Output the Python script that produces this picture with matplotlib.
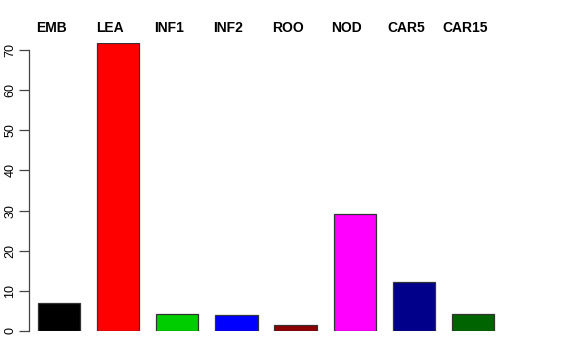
import matplotlib
matplotlib.use('Agg')
import matplotlib.pyplot as plt
import matplotlib.transforms as mtransforms
import numpy as np

plt.rcParams['font.family'] = ['Liberation Sans', 'DejaVu Sans']

tissues = ['EMB', 'LEA', 'INF1', 'INF2', 'ROO', 'NOD', 'CAR5', 'CAR15']
values = [6.9, 71.7, 4.2, 3.9, 1.4, 29.1, 12.1, 4.3]
colors = ['black', 'red', '#00CD00', 'blue', '#8B0000', 'magenta', '#00008B', '#006400']

W, H = 576, 360
fig = plt.figure(figsize=(W / 100, H / 100), dpi=100)
# plot region in pixels: left 29, right 503, bottom 331, top 43
ax = fig.add_axes([29 / W, (H - 331) / H, (503 - 29) / W, (331 - 43) / H])

x = 0.9 + 1.4 * np.arange(len(tissues))
ax.bar(x, values, width=1.0, color=colors, edgecolor='#333333', linewidth=0.9)

ax.set_xlim(0.4 - 0.213, 11.2 + 0.213)
ax.set_ylim(0, 71.75)

for s in ['top', 'right', 'bottom']:
    ax.spines[s].set_visible(False)
ax.spines['left'].set_bounds(0, 70)
ax.spines['left'].set_color('#444444')
ax.spines['left'].set_linewidth(0.9)
ax.set_xticks([])
ax.set_yticks(np.arange(0, 71, 10))
ax.tick_params(axis='y', length=7, width=0.9, color='#444444', labelsize=9, pad=2)
for lab in ax.get_yticklabels():
    lab.set_rotation(90)
    lab.set_va('center')

trans = mtransforms.blended_transform_factory(ax.transData, fig.transFigure)
for xi, name in zip(x, tissues):
    ax.text(xi - 0.19, 1 - 28 / H, name, transform=trans, ha='center', va='center',
            fontsize=10, fontweight='bold', clip_on=False)

fig.savefig('out.png', dpi=100)
